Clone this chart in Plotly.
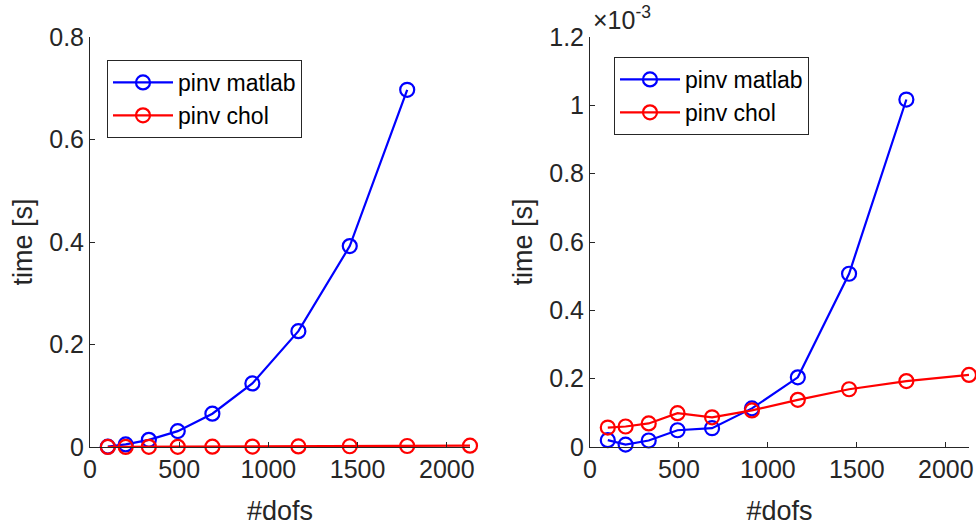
import plotly.graph_objects as go

# data
dofs = [100, 200, 330, 492, 686, 910, 1168, 1456, 1778, 2130]
left_matlab = [0.0006, 0.005, 0.014, 0.031, 0.065, 0.124, 0.226, 0.392, 0.697]
left_chol = [0.0001, 0.0002, 0.0003, 0.0004, 0.0006, 0.0008, 0.0011, 0.0015, 0.0020, 0.0026]
right_matlab_e3 = [0.020, 0.007, 0.019, 0.049, 0.055, 0.113, 0.204, 0.507, 1.017]
right_chol_e3 = [0.057, 0.060, 0.069, 0.099, 0.087, 0.107, 0.138, 0.169, 0.193, 0.211]

xticks = [0, 500, 1000, 1500, 2000]
left_yticks = [0, 0.2, 0.4, 0.6, 0.8]
right_yticks = [0, 0.2, 0.4, 0.6, 0.8, 1, 1.2]
right_ytext = ["0", "0.2", "0.4", "0.6", "0.8", "1", "1.2"]

FONT = "Liberation Sans, Arial, sans-serif"
AX = "#262626"
BLUE = "#0000ff"
RED = "#ff0000"

fig = go.Figure()

def add(x, y, name, color, xa, ya, leg, show=True):
    fig.add_trace(go.Scatter(
        x=x, y=y, name=name, mode="lines+markers",
        line=dict(color=color, width=2.2),
        marker=dict(symbol="circle-open", size=14, color=color, line=dict(width=2.2, color=color)),
        xaxis=xa, yaxis=ya, legend=leg, cliponaxis=False, showlegend=show))

add(dofs[:len(left_matlab)], left_matlab, "pinv matlab", BLUE, "x", "y", "legend")
add(dofs, left_chol, "pinv chol", RED, "x", "y", "legend")
add(dofs[:len(right_matlab_e3)], right_matlab_e3, "pinv matlab", BLUE, "x2", "y2", "legend2")
add(dofs, right_chol_e3, "pinv chol", RED, "x2", "y2", "legend2")

ydom = [1 - 447 / 530, 1 - 37 / 530]
xdom1 = [90 / 976, 470 / 976]
xdom2 = [590 / 976, 969 / 976]

common_x = dict(range=[0, 2130], tickvals=xticks, showline=True, linecolor=AX, linewidth=1,
                ticks="inside", ticklen=5, tickcolor=AX, showgrid=False, zeroline=False,
                automargin=False,
                tickfont=dict(family=FONT, size=25, color=AX),
                title=dict(text="#dofs", font=dict(family=FONT, size=27, color=AX), standoff=19))
common_y = dict(showline=True, linecolor=AX, linewidth=1, ticks="inside", ticklen=5, tickcolor=AX,
                showgrid=False, zeroline=False, automargin=False,
                tickfont=dict(family=FONT, size=25, color=AX),
                title=dict(text="time [s]", font=dict(family=FONT, size=27, color=AX), standoff=8))

legend_style = dict(bgcolor="white", bordercolor=AX, borderwidth=1,
                    font=dict(family=FONT, size=23, color="black"),
                    xanchor="left", yanchor="top", itemwidth=60, tracegroupgap=0)

fig.update_layout(
    width=976, height=530, margin=dict(l=0, r=0, t=0, b=0),
    paper_bgcolor="white", plot_bgcolor="white",
    xaxis=dict(domain=xdom1, anchor="y", **common_x),
    yaxis=dict(domain=ydom, anchor="x", range=[0, 0.8], tickvals=left_yticks, **common_y),
    xaxis2=dict(domain=xdom2, anchor="y2", **common_x),
    yaxis2=dict(domain=ydom, anchor="x2", range=[0, 1.2], tickvals=right_yticks,
                ticktext=right_ytext, **common_y),
    legend=dict(x=107 / 976, y=1 - 60 / 530, **legend_style),
    legend2=dict(x=614 / 976, y=1 - 57 / 530, **legend_style),
    annotations=[dict(text="×10<sup>-3</sup>", x=591 / 976, y=1 - 0 / 530, xref="paper", yref="paper",
                      xanchor="left", yanchor="top", showarrow=False,
                      font=dict(family=FONT, size=25, color=AX))],
)

fig.write_html("out.html")
